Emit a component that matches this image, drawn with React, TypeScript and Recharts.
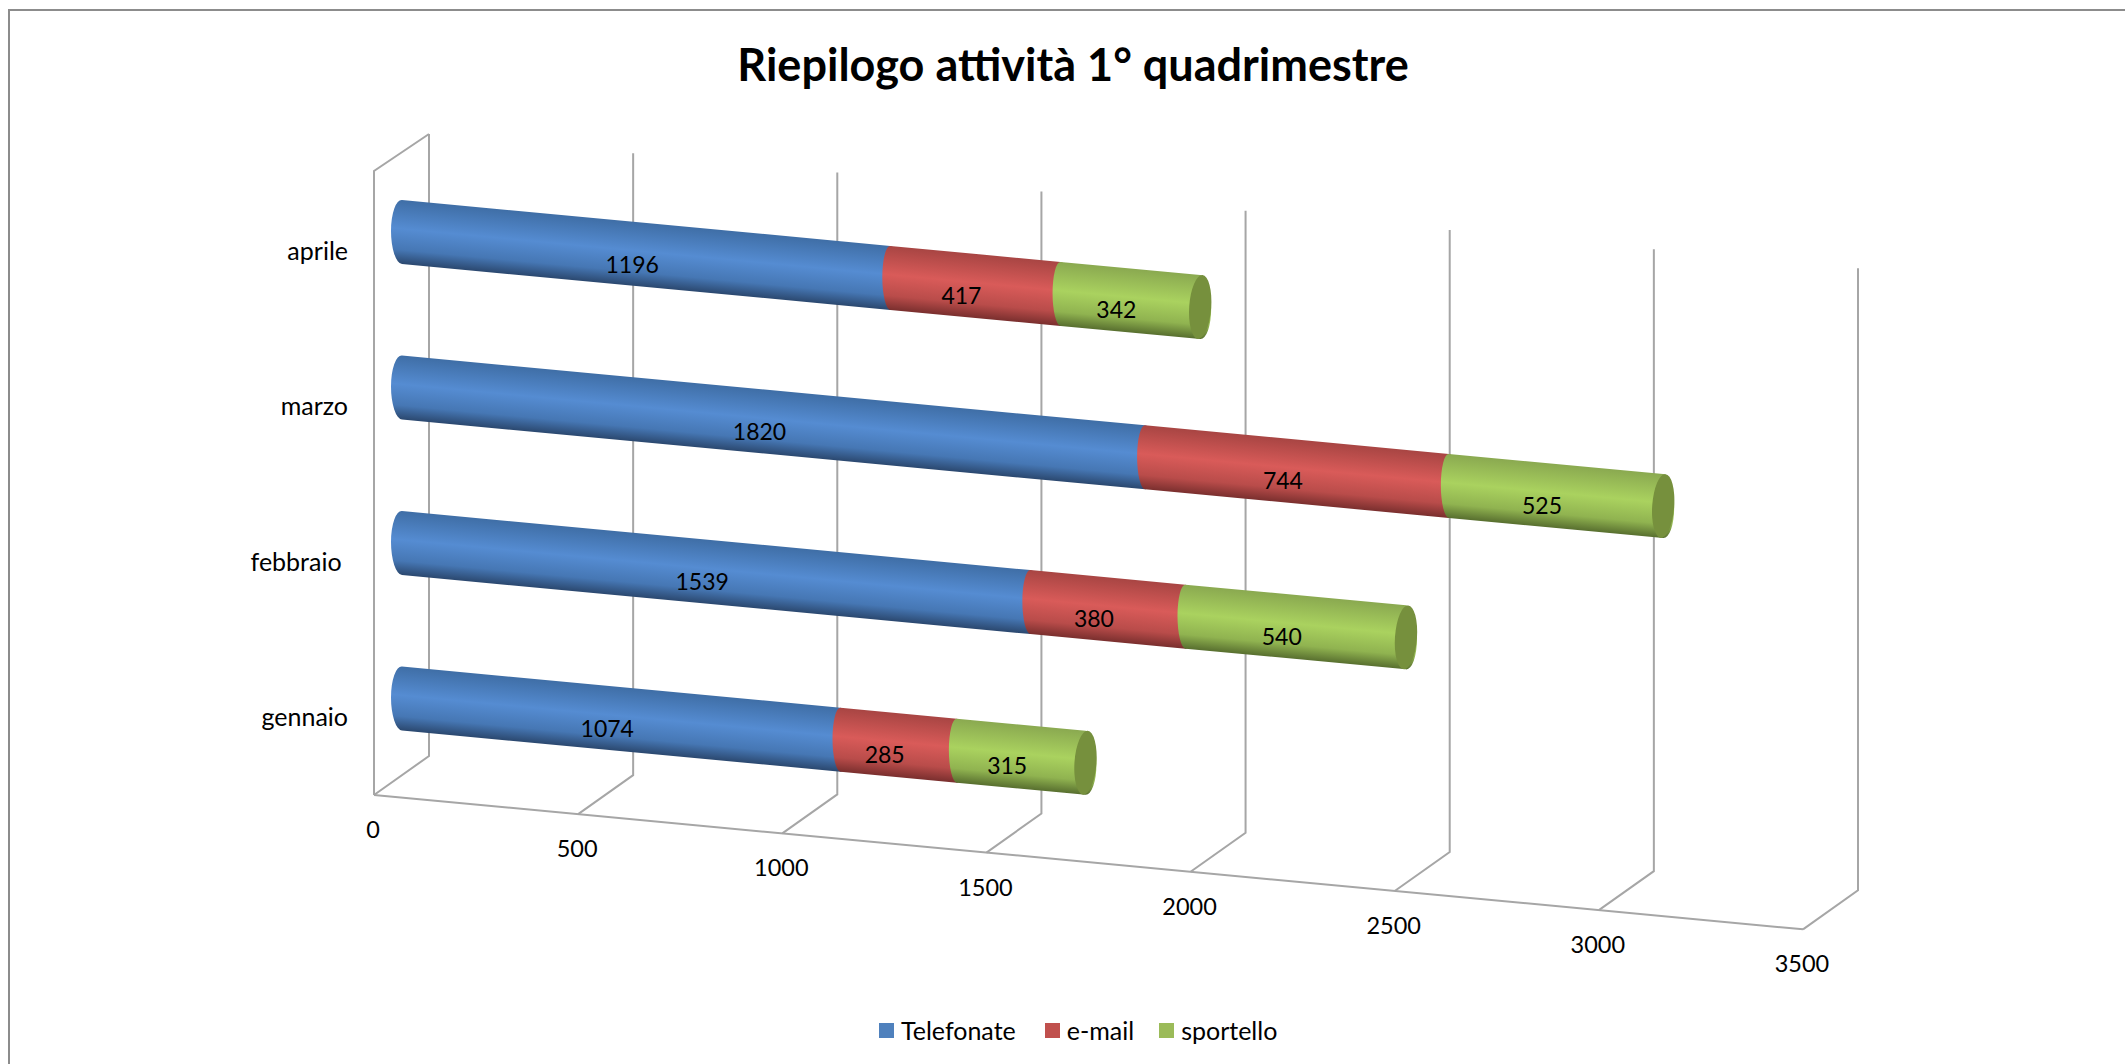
import { Bar, BarChart, CartesianGrid, LabelList, Legend, XAxis, YAxis } from "recharts";

const months = ["gennaio", "febbraio ", "marzo", "aprile"];
const telefonate = [1074, 1539, 1820, 1196];
const email = [285, 380, 744, 417];
const sportello = [315, 540, 525, 342];
const xTicks = [0, 500, 1000, 1500, 2000, 2500, 3000, 3500];

const data = months.map((month, i) => ({
  month,
  telefonate: telefonate[i],
  email: email[i],
  sportello: sportello[i],
}));

const FONT = "Lato, 'Open Sans', sans-serif";
const WIDTH = 2125;
const HEIGHT = 1064;
const LEFT = 402;
const PLOT_W = 1429;
const TOP = 154;
const BOTTOM = 776;
const SLOPE = 0.094; // the fake 3d: everything runs downhill to the right
const FRONT = { dx: -28, dy: 19 };
const BACK = { dx: 27, dy: -20 };
const GRID = "#a6a6a6";
const drop = (x: number) => (x - LEFT) * SLOPE;

// walls and floor of the 3d box, one call per x tick
function gridLine(props: any) {
  const x = props.x1;
  const fx = x + FRONT.dx;
  const bx = x + BACK.dx;
  const fy = BOTTOM + FRONT.dy + drop(x);
  const by = BOTTOM + BACK.dy + drop(x);
  const ty = TOP + BACK.dy + drop(x);
  const first = props.index === 0;
  return (
    <g key={props.key} stroke={GRID} strokeWidth={2} fill="none">
      <path d={`M${fx} ${fy}L${bx} ${by}L${bx} ${ty}`} />
      {first && <path d={`M${fx} ${fy}L${fx} ${TOP + FRONT.dy - 2}L${bx} ${ty}`} />}
      {first && <path d={`M${fx} ${fy}L${fx + PLOT_W} ${fy + PLOT_W * SLOPE}`} />}
    </g>
  );
}

function cylinder(gradient: string, startRx: number, cap?: string) {
  return (props: any) => {
    const { x, y, width, height } = props;
    const r = height / 2;
    const rx = 11;
    const end = x + width;
    const d = `M${x} ${y}L${end} ${y}A${rx} ${r} 0 0 1 ${end} ${y + height}L${x} ${y + height}A${startRx} ${r} 0 0 1 ${x} ${y}Z`;
    return (
      <g>
        <path d={d} fill={`url(#${gradient})`} transform={`matrix(1 ${SLOPE} 0 1 0 ${-LEFT * SLOPE})`} />
        {cap && (
          <ellipse
            cx={end}
            cy={y + r + drop(end)}
            rx={rx}
            ry={r}
            fill={cap}
            transform={`rotate(4 ${end} ${y + r + drop(end)})`}
          />
        )}
      </g>
    );
  };
}

function barLabel(props: any) {
  const { x, y, width, height, value } = props;
  const cx = x + width / 2 - 14;
  return (
    <text
      x={cx}
      y={y + height / 2 + drop(cx) + 10}
      textAnchor="middle"
      dominantBaseline="central"
      fontFamily={FONT}
      fontSize={23}
      fill="#000"
    >
      {value}
    </text>
  );
}

function ValueTick(props: any) {
  const { x, payload } = props;
  return (
    <text
      x={x + FRONT.dx - 1}
      y={BOTTOM + FRONT.dy + drop(x) + 34}
      textAnchor="middle"
      dominantBaseline="central"
      fontFamily={FONT}
      fontSize={23.5}
      fill="#000"
    >
      {payload.value}
    </text>
  );
}

function MonthTick(props: any) {
  const { y, payload } = props;
  return (
    <text
      x={348}
      y={y + 18}
      textAnchor="end"
      dominantBaseline="central"
      fontFamily={FONT}
      fontSize={25}
      fill="#000"
      style={{ whiteSpace: "pre" }}
    >
      {payload.value}
    </text>
  );
}

function LegendRow(props: any) {
  const gaps = [29, 25, 0];
  return (
    <div style={{ display: "flex", alignItems: "center", fontFamily: FONT, fontSize: 25, color: "#000" }}>
      {props.payload.map((item: any, i: number) => (
        <div key={item.value} style={{ display: "flex", alignItems: "center", marginRight: gaps[i] }}>
          <span style={{ width: 15, height: 15, background: item.color, marginRight: 7 }} />
          <span>{item.value}</span>
        </div>
      ))}
    </div>
  );
}

export default function App() {
  return (
    <div style={{ position: "fixed", left: 0, top: 0, width: WIDTH, height: HEIGHT, background: "#fff", overflow: "hidden" }}>
      <div
        style={{
          position: "absolute",
          left: 8,
          top: 9,
          right: 0,
          bottom: 0,
          borderLeft: "2px solid #8c8c8c",
          borderTop: "2px solid #8c8c8c",
        }}
      />
      <BarChart
        width={WIDTH}
        height={HEIGHT}
        data={data}
        layout="vertical"
        barSize={64}
        margin={{ left: LEFT - 1, right: WIDTH - LEFT - PLOT_W, top: TOP, bottom: HEIGHT - BOTTOM - 1 }}
      >
        <defs>
          <linearGradient id="gradBlue" x1="0" y1="0" x2="0" y2="1">
            <stop offset="0" stopColor="#3f6ea6" />
            <stop offset="0.45" stopColor="#558cd2" />
            <stop offset="0.78" stopColor="#4677b4" />
            <stop offset="1" stopColor="#2b486f" />
          </linearGradient>
          <linearGradient id="gradRed" x1="0" y1="0" x2="0" y2="1">
            <stop offset="0" stopColor="#a84543" />
            <stop offset="0.45" stopColor="#d95b59" />
            <stop offset="0.78" stopColor="#b94c4a" />
            <stop offset="1" stopColor="#7a2f2e" />
          </linearGradient>
          <linearGradient id="gradGreen" x1="0" y1="0" x2="0" y2="1">
            <stop offset="0" stopColor="#8aa950" />
            <stop offset="0.45" stopColor="#aad25f" />
            <stop offset="0.78" stopColor="#90b350" />
            <stop offset="1" stopColor="#586f2f" />
          </linearGradient>
        </defs>
        <text
          x={1073}
          y={64}
          textAnchor="middle"
          dominantBaseline="central"
          fontFamily={FONT}
          fontWeight={700}
          fontSize={45}
          fill="#000"
        >
          Riepilogo attività 1° quadrimestre
        </text>
        <CartesianGrid horizontal={false} vertical={gridLine} />
        <XAxis
          type="number"
          domain={[0, 3500]}
          ticks={xTicks}
          interval={0}
          height={1}
          axisLine={false}
          tickLine={false}
          tick={ValueTick}
        />
        <YAxis
          type="category"
          dataKey="month"
          reversed
          width={1}
          axisLine={false}
          tickLine={false}
          tick={MonthTick}
        />
        <Legend
          verticalAlign="top"
          align="left"
          height={0}
          wrapperStyle={{ position: "absolute", left: 879, top: 1015, width: "auto", height: 0, overflow: "visible" }}
          content={LegendRow}
        />
        <Bar dataKey="telefonate" name="Telefonate" stackId="a" fill="#4f81bd" isAnimationActive={false} shape={cylinder("gradBlue", 11)}>
          <LabelList dataKey="telefonate" content={barLabel} />
        </Bar>
        <Bar dataKey="email" name="e-mail" stackId="a" fill="#c0504d" isAnimationActive={false} shape={cylinder("gradRed", 8)}>
          <LabelList dataKey="email" content={barLabel} />
        </Bar>
        <Bar dataKey="sportello" name="sportello" stackId="a" fill="#9bbb59" isAnimationActive={false} shape={cylinder("gradGreen", 8, "#76903d")}>
          <LabelList dataKey="sportello" content={barLabel} />
        </Bar>
      </BarChart>
    </div>
  );
}
